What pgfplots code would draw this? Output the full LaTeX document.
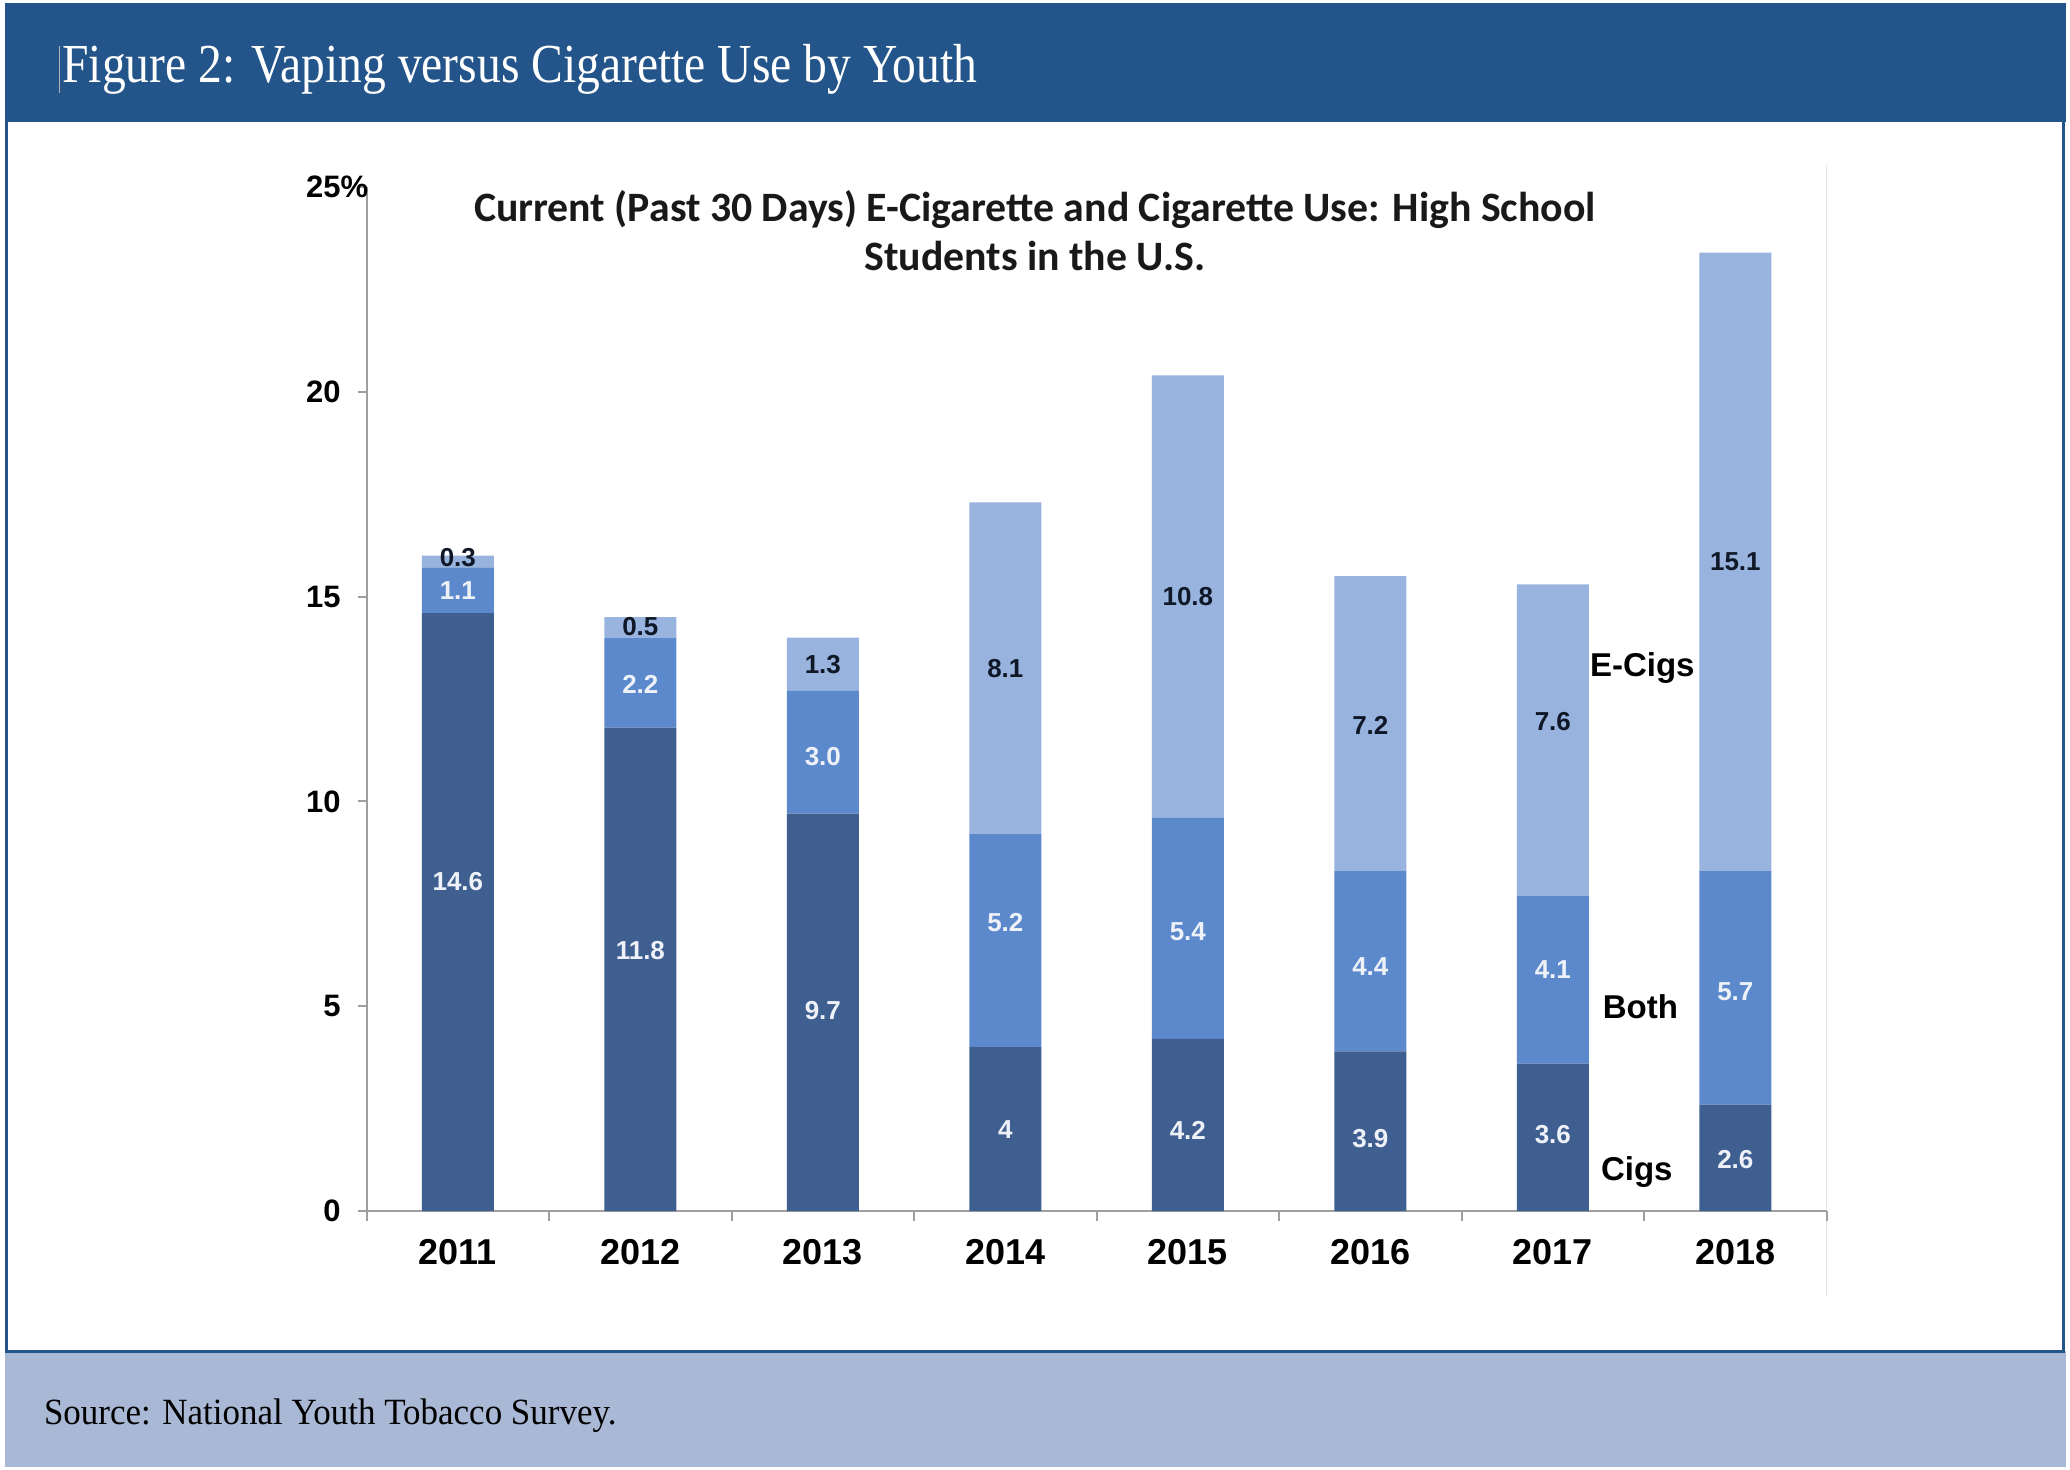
\documentclass[border=0pt]{standalone}
\usepackage{fontspec}
\setmainfont{Liberation Sans}
\newfontfamily\serifb{Liberation Serif}
\newfontfamily\calib{Carlito}
\usepackage{pgfplots}
\usepackage{pgfplotstable}
\pgfplotsset{compat=1.18}
\definecolor{cigs}{RGB}{63,95,144}
\definecolor{both}{RGB}{92,137,204}
\definecolor{ecigs}{RGB}{151,179,222}
\definecolor{band}{RGB}{35,84,138}
\definecolor{foot}{RGB}{169,184,212}
\definecolor{lablight}{RGB}{238,242,248}
\definecolor{labdark}{RGB}{16,24,40}

\pgfplotstableread{
x cigs both ecigs
0 14.6 1.1 0.3
1 11.8 2.2 0.5
2 9.7 3.0 1.3
3 4.0 5.2 8.1
4 4.2 5.4 10.8
5 3.9 4.4 7.2
6 3.6 4.1 7.6
7 2.6 5.7 15.1
}\datatab

\pgfplotstableread{
x y lab
0 8.05 14.6
0 15.15 1.1
1 6.37 11.8
1 12.86 2.2
2 4.9 9.7
2 11.1 3.0
3 2.0 4
3 7.04 5.2
4 1.97 4.2
4 6.82 5.4
5 1.78 3.9
5 5.98 4.4
6 1.87 3.6
6 5.9 4.1
7 1.26 2.6
7 5.36 5.7
}\whitelabs

\pgfplotstableread{
x y lab
0 15.96 0.3
1 14.28 0.5
2 13.34 1.3
3 13.25 8.1
4 15.0 10.8
5 11.86 7.2
6 11.95 7.6
7 15.86 15.1
}\darklabs

\begin{document}
\begin{tikzpicture}
\useasboundingbox (0,0) rectangle (1035pt,-734.6pt);
% frame
\fill[white] (0,0) rectangle (1035pt,-734.6pt);
\fill[band] (2.6pt,-1.3pt) rectangle (1033pt,-60.9pt);
\fill[foot] (2.6pt,-675.6pt) rectangle (1033pt,-733.3pt);
\draw[band, line width=1.6pt] (3.4pt,-60.9pt) -- (3.4pt,-675.6pt) -- (1031.8pt,-675.6pt) -- (1031.8pt,-60.9pt);
\draw[gray!60, line width=0.5pt] (29.8pt,-23.2pt) -- (29.8pt,-46.3pt);
\node[anchor=base west, inner sep=0pt, text=white, font=\serifb\fontsize{27.5}{27.5}\selectfont] at (31pt,-41pt) {\scalebox{0.865}[1]{Figure 2: Vaping versus Cigarette Use by Youth}};
\node[anchor=base west, inner sep=0pt, text=black, font=\serifb\fontsize{18.5}{18.5}\selectfont] at (21.8pt,-712pt) {\scalebox{0.945}[1]{Source: National Youth Tobacco Survey.}};
\draw[gray!20, line width=0.6pt] (913.3pt,-82.7pt) -- (913.3pt,-648.6pt);
% chart title
\node[align=center, font=\calib\bfseries\fontsize{20.9}{24.5}\selectfont, text=black!90] at (517.5pt,-115.5pt) {Current (Past 30 Days) E-Cigarette and Cigarette Use: High School\\Students in the U.S.};

\begin{axis}[
  at={(183.3pt,-605.5pt)}, anchor=south west,
  scale only axis, width=730pt, height=512pt,
  xmin=-0.5, xmax=7.5, ymin=0, ymax=25,
  ybar stacked, bar width=36pt,
  axis x line=bottom, axis y line=left,
  axis line style={-, draw=gray!75, line width=1.1pt},
  xtick={0,...,7},
  xticklabels={2011,2012,2013,2014,2015,2016,2017,2018},
  minor xtick={-0.5,0.5,...,7.5},
  major x tick style={draw=none},
  minor tick length=5pt,
  minor x tick style={draw=gray!75, line width=1pt},
  xtick align=outside,
  ytick={0,5,...,25},
  yticklabels={0,5,10,15,20,25\rlap{\%}},
  ytick align=outside,
  major tick length=4.5pt,
  major y tick style={draw=gray!75, line width=1pt},
  xticklabel style={font=\bfseries\fontsize{18}{18}\selectfont, yshift=-6.2pt},
  yticklabel style={font=\bfseries\fontsize{15.5}{15.5}\selectfont, xshift=-5pt},
  enlarge x limits=false,
  clip=false,
]
\addplot[fill=cigs, draw=none] table[x=x, y=cigs] {\datatab};
\addplot[fill=both, draw=none] table[x=x, y=both] {\datatab};
\addplot[fill=ecigs, draw=none] table[x=x, y=ecigs] {\datatab};
\end{axis}

\begin{axis}[
  at={(183.3pt,-605.5pt)}, anchor=south west,
  scale only axis, width=730pt, height=512pt,
  xmin=-0.5, xmax=7.5, ymin=0, ymax=25,
  hide axis, clip=false,
]
\addplot[draw=none, mark=none, nodes near coords, point meta=explicit symbolic,
  nodes near coords style={anchor=center, inner sep=0pt, text=lablight, font=\bfseries\fontsize{13}{13}\selectfont}]
  table[x=x, y=y, meta=lab] {\whitelabs};
\addplot[draw=none, mark=none, nodes near coords, point meta=explicit symbolic,
  nodes near coords style={anchor=center, inner sep=0pt, text=labdark, font=\bfseries\fontsize{13}{13}\selectfont}]
  table[x=x, y=y, meta=lab] {\darklabs};
\node[font=\bfseries\fontsize{16.5}{16.5}\selectfont] at (axis cs:6.49,13.25) {E-Cigs};
\node[font=\bfseries\fontsize{16.5}{16.5}\selectfont] at (axis cs:6.48,4.98) {Both};
\node[font=\bfseries\fontsize{16.5}{16.5}\selectfont] at (axis cs:6.46,0.94) {Cigs};
\end{axis}
\end{tikzpicture}
\end{document}
